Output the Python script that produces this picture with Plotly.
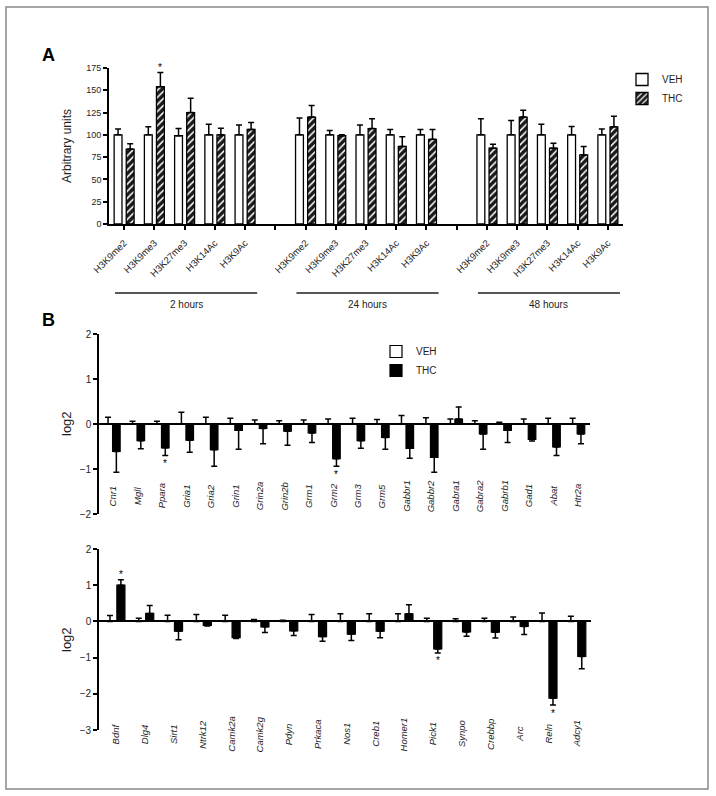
import plotly.graph_objects as go

# ---------------- Panel A data ----------------
marks = ["H3K9me2", "H3K9me3", "H3K27me3", "H3K14Ac", "H3K9Ac"]
time_groups = ["2 hours", "24 hours", "48 hours"]

veh_2h = [100, 100, 99, 100, 100]
veh_2h_err = [6.5, 9, 8, 12, 11]
thc_2h = [84, 154, 125, 100, 106]
thc_2h_err = [6, 16, 16, 7.5, 8]

veh_24h = [100, 100, 100, 100, 100]
veh_24h_err = [19, 5, 11, 6, 6]
thc_24h = [120, 99, 107, 87, 95]
thc_24h_err = [13, 1, 11, 11, 11]

veh_48h = [100, 100, 100, 100, 100]
veh_48h_err = [18, 16, 12, 9.5, 6.5]
thc_48h = [85, 120, 85, 77.5, 109]
thc_48h_err = [4.5, 7.5, 5.5, 9.3, 12]

sig_A = [("2 hours", "H3K9me3")]

# ---------------- Panel B data ----------------
genes_top = ["Cnr1", "Mgll", "Ppara", "Gria1", "Gria2", "Grin1", "Grin2a", "Grin2b",
             "Grm1", "Grm2", "Grm3", "Grm5", "Gabbr1", "Gabbr2", "Gabra1", "Gabra2",
             "Gabrb1", "Gad1", "Abat", "Htr2a"]
veh_top = [0] * 20
veh_top_err = [0.15, 0.06, 0.06, 0.26, 0.15, 0.13, 0.09, 0.07, 0.09, 0.11,
               0.13, 0.10, 0.19, 0.14, 0.11, 0.07, 0.04, 0.11, 0.13, 0.13]
thc_top = [-0.61, -0.37, -0.53, -0.36, -0.57, -0.14, -0.10, -0.16, -0.20, -0.77,
           -0.37, -0.30, -0.54, -0.74, 0.11, -0.22, -0.14, -0.34, -0.51, -0.22]
thc_top_err = [0.46, 0.18, 0.17, 0.27, 0.37, 0.42, 0.34, 0.31, 0.21, 0.17,
               0.17, 0.26, 0.22, 0.33, 0.27, 0.34, 0.27, 0.04, 0.19, 0.22]
sig_top = ["Ppara", "Grm2"]

genes_bot = ["Bdnf", "Dlg4", "Sirt1", "Ntrk12", "Camk2a", "Camk2g", "Pdyn", "Prkaca",
             "Nos1", "Creb1", "Homer1", "Pick1", "Synpo", "Crebbp", "Arc", "Reln", "Adcy1"]
veh_bot = [0] * 17
veh_bot_err = [0.16, 0.09, 0.17, 0.19, 0.17, 0.05, 0.03, 0.19, 0.21, 0.21,
               0.21, 0.09, 0.07, 0.09, 0.12, 0.23, 0.14]
thc_bot = [1.0, 0.22, -0.27, -0.11, -0.45, -0.15, -0.26, -0.42, -0.35, -0.27,
           0.21, -0.76, -0.29, -0.30, -0.14, -2.12, -0.97]
thc_bot_err = [0.15, 0.22, 0.24, 0.02, 0.02, 0.16, 0.13, 0.13, 0.18, 0.18,
               0.25, 0.11, 0.12, 0.16, 0.22, 0.19, 0.34]
sig_bot = ["Bdnf", "Pick1", "Reln"]

W, H = 716, 796
FONT = "Liberation Sans, Arial, sans-serif"
TXT = "#1e1e1e"


def px(x):
    return x / W


def py(y):
    return 1 - y / H


def split_err(vals, errs):
    plus = [e if v >= 0 else 0 for v, e in zip(vals, errs)]
    minus = [0 if v >= 0 else e for v, e in zip(vals, errs)]
    return plus, minus


fig = go.Figure()

# ---------------- Panel A traces ----------------
n = len(marks)
posA, vehA, vehA_e, thcA, thcA_e = [], [], [], [], []
groups = [(veh_2h, veh_2h_err, thc_2h, thc_2h_err),
          (veh_24h, veh_24h_err, thc_24h, thc_24h_err),
          (veh_48h, veh_48h_err, thc_48h, thc_48h_err)]
for g, (v, ve, t, te) in enumerate(groups):
    for i in range(n):
        posA.append(g * (n + 1) + i)
        vehA.append(v[i]); vehA_e.append(ve[i])
        thcA.append(t[i]); thcA_e.append(te[i])

eb = dict(type="data", symmetric=False, color="black", thickness=1.5, width=3)

fig.add_trace(go.Bar(
    x=posA, y=vehA, offset=-0.33, width=0.26, name="VEH",
    marker=dict(color="white", line=dict(color="black", width=1.3)),
    error_y=dict(eb, array=vehA_e, arrayminus=[0] * len(vehA)),
    xaxis="x", yaxis="y", legend="legend"))
fig.add_trace(go.Bar(
    x=posA, y=thcA, offset=0.07, width=0.26, name="THC",
    marker=dict(color="#1a1a1a", line=dict(color="black", width=1.3),
                pattern=dict(shape="/", fgcolor="white", bgcolor="#1a1a1a",
                             size=5, solidity=0.3, fillmode="replace")),
    error_y=dict(eb, array=thcA_e, arrayminus=[0] * len(thcA)),
    xaxis="x", yaxis="y", legend="legend"))

# ---------------- Panel B traces ----------------
posT = list(range(len(genes_top)))
posB = list(range(len(genes_bot)))

p, m = split_err(veh_top, veh_top_err)
fig.add_trace(go.Bar(
    x=posT, y=veh_top, offset=-0.335, width=0.31, name="VEH",
    marker=dict(color="white", line=dict(color="black", width=1.2)),
    error_y=dict(eb, array=p, arrayminus=m),
    xaxis="x2", yaxis="y2", legend="legend2"))
p, m = split_err(thc_top, thc_top_err)
fig.add_trace(go.Bar(
    x=posT, y=thc_top, offset=0.005, width=0.31, name="THC",
    marker=dict(color="black", line=dict(color="black", width=1.2)),
    error_y=dict(eb, array=p, arrayminus=m),
    xaxis="x2", yaxis="y2", legend="legend2"))

p, m = split_err(veh_bot, veh_bot_err)
fig.add_trace(go.Bar(
    x=posB, y=veh_bot, offset=-0.33, width=0.28, name="VEH", showlegend=False,
    marker=dict(color="white", line=dict(color="black", width=1.2)),
    error_y=dict(eb, array=p, arrayminus=m),
    xaxis="x3", yaxis="y3"))
p, m = split_err(thc_bot, thc_bot_err)
fig.add_trace(go.Bar(
    x=posB, y=thc_bot, offset=0.05, width=0.28, name="THC", showlegend=False,
    marker=dict(color="black", line=dict(color="black", width=1.2)),
    error_y=dict(eb, array=p, arrayminus=m),
    xaxis="x3", yaxis="y3"))

# ---------------- Axes ----------------
axis_common = dict(showgrid=False, linecolor="black", linewidth=1.6,
                   tickcolor="black", tickwidth=1.5, ticklen=4, automargin=False,
                   tickfont=dict(family=FONT, size=9, color=TXT))

tick_text = []
for g in range(3):
    tick_text += marks
    if g < 2:
        tick_text.append("")
fig.update_layout(
    xaxis=dict(axis_common, domain=[px(109), px(623)], range=[-0.5, 16.5],
               tickvals=list(range(len(tick_text))), ticktext=tick_text,
               tickangle=-45, ticks="outside", showline=True, zeroline=False,
               ticklabelstandoff=4, anchor="y",
               tickfont=dict(family=FONT, size=9.5, color=TXT)),
    yaxis=dict(axis_common, domain=[py(224), py(68)], range=[0, 175], dtick=25,
               ticks="outside", showline=True, zeroline=False, anchor="x"),
    xaxis2=dict(domain=[px(99), px(590)], range=[-0.55, 19.53], showline=False,
                showticklabels=False, ticks="", showgrid=False, zeroline=False,
                anchor="y2", automargin=False),
    yaxis2=dict(axis_common, domain=[py(514), py(334)], range=[-2, 2], dtick=1,
                ticks="outside", showline=True, zeroline=True,
                zerolinecolor="black", zerolinewidth=1.6, anchor="x2",
                tickfont=dict(family=FONT, size=10, color=TXT)),
    xaxis3=dict(domain=[px(99), px(591)], range=[-0.57, 16.51], showline=False,
                showticklabels=False, ticks="", showgrid=False, zeroline=False,
                anchor="y3", automargin=False),
    yaxis3=dict(axis_common, domain=[py(730), py(549)], range=[-3, 2], dtick=1,
                ticks="outside", showline=True, zeroline=True,
                zerolinecolor="black", zerolinewidth=1.6, anchor="x3",
                tickfont=dict(family=FONT, size=10, color=TXT)),
)

# ---------------- Annotations ----------------
ann = []
C = dict(xanchor="center", yanchor="middle", showarrow=False)
ann.append(dict(C, text="<b>A</b>", x=px(48), y=py(55), xref="paper", yref="paper",
                font=dict(family=FONT, size=18, color="black")))
ann.append(dict(C, text="<b>B</b>", x=px(48), y=py(320), xref="paper", yref="paper",
                font=dict(family=FONT, size=18, color="black")))
ann.append(dict(C, text="Arbitrary units", x=px(67), y=py(146), xref="paper", yref="paper",
                textangle=-90, font=dict(family=FONT, size=12, color=TXT)))
ann.append(dict(C, text="log2", x=px(66), y=py(424), xref="paper", yref="paper",
                textangle=-90, font=dict(family=FONT, size=13, color=TXT)))
ann.append(dict(C, text="log2", x=px(66), y=py(640), xref="paper", yref="paper",
                textangle=-90, font=dict(family=FONT, size=13, color=TXT)))

shapes = []
for g, label in enumerate(time_groups):
    x0 = g * (n + 1) - 0.3
    x1 = g * (n + 1) + n - 1 + 0.4
    shapes.append(dict(type="line", xref="x", yref="paper", x0=x0, x1=x1,
                       y0=py(293), y1=py(293), line=dict(color=TXT, width=1.6)))
    ann.append(dict(C, text=label, x=(x0 + x1) / 2, y=py(304), xref="x", yref="paper",
                    font=dict(family=FONT, size=10, color=TXT)))

star_font = dict(family=FONT, size=10, color="black")
for grp, mk in sig_A:
    i = time_groups.index(grp) * (n + 1) + marks.index(mk)
    k = posA.index(i)
    ann.append(dict(C, text="*", x=i + 0.2, y=thcA[k] + thcA_e[k], xref="x", yref="y",
                    yshift=5, font=star_font))
for gname in sig_top:
    i = genes_top.index(gname)
    v = thc_top[i]
    end = v + thc_top_err[i] if v >= 0 else v - thc_top_err[i]
    ann.append(dict(C, text="*", x=i + 0.16, y=end, xref="x2", yref="y2",
                    yshift=5 if v >= 0 else -8, font=star_font))
for gname in sig_bot:
    i = genes_bot.index(gname)
    v = thc_bot[i]
    end = v + thc_bot_err[i] if v >= 0 else v - thc_bot_err[i]
    ann.append(dict(C, text="*", x=i + 0.19, y=end, xref="x3", yref="y3",
                    yshift=5 if v >= 0 else -8, font=star_font))

gl_font = dict(family=FONT, size=9.5, color=TXT)
for i, gname in enumerate(genes_top):
    ann.append(dict(C, text="<i>%s</i>" % gname, x=i, y=py(496), xref="x2", yref="paper",
                    textangle=-90, font=gl_font))
for i, gname in enumerate(genes_bot):
    ann.append(dict(C, text="<i>%s</i>" % gname, x=i, y=py(734), xref="x3", yref="paper",
                    textangle=-90, font=gl_font))

shapes.append(dict(type="rect", xref="paper", yref="paper", x0=px(6), x1=px(708),
                   y0=py(789), y1=py(7), line=dict(color="#888", width=1.5)))

fig.update_layout(
    template="none",
    width=W, height=H, margin=dict(l=0, r=0, t=0, b=0, pad=0, autoexpand=False),
    paper_bgcolor="white", plot_bgcolor="white",
    barmode="overlay", annotations=ann, shapes=shapes,
    font=dict(family=FONT, color=TXT),
    legend=dict(x=px(622), y=py(65), xanchor="left", yanchor="top",
                bgcolor="rgba(0,0,0,0)", font=dict(family=FONT, size=10, color=TXT),
                traceorder="normal", borderwidth=0),
    legend2=dict(x=px(376), y=py(337), xanchor="left", yanchor="top",
                 bgcolor="rgba(0,0,0,0)", font=dict(family=FONT, size=10, color=TXT),
                 traceorder="normal", borderwidth=0),
)

fig.write_html("out.html", config={"displayModeBar": False},
               post_script="document.body.style.margin='0';document.documentElement.style.margin='0';")
